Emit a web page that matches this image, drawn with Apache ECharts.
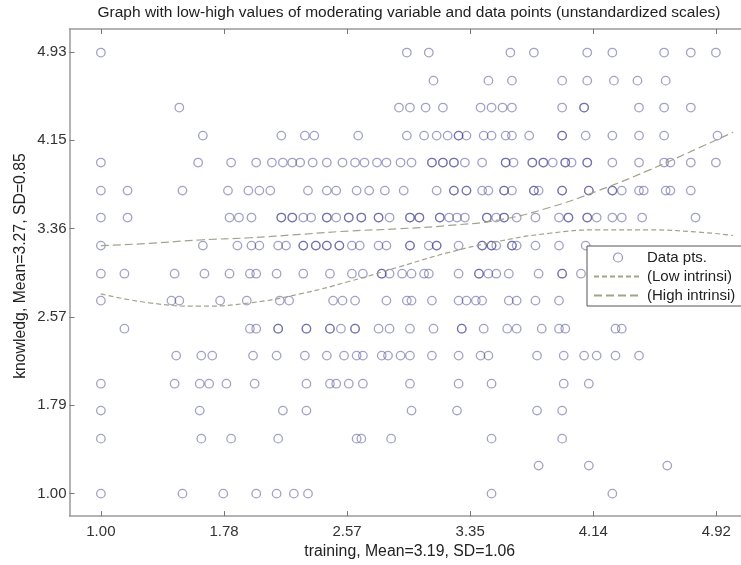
<!DOCTYPE html>
<html><head><meta charset="utf-8">
<script src="https://cdn.jsdelivr.net/npm/echarts@6/dist/echarts.min.js"></script>
<style>html,body{margin:0;padding:0;background:#fff}#c{width:741px;height:565px}</style>
</head><body><div id="c"></div>
<script>
// axis ticks
const xTicks = [1.00, 1.7846, 2.5692, 3.3538, 4.1384, 4.923];
const xTickLabels = ['1.00', '1.78', '2.57', '3.35', '4.14', '4.92'];
const yTicks = [1.00, 1.787, 2.574, 3.361, 4.148, 4.935];
const yTickLabels = ['1.00', '1.79', '2.57', '3.36', '4.15', '4.93'];

// knowledge levels (rows of data points), top to bottom
const yLevels = [4.93, 4.68, 4.44, 4.19, 3.95, 3.70, 3.46, 3.21, 2.96, 2.72, 2.47, 2.23, 1.98, 1.74, 1.49, 1.25, 1.00];

// training values of data points on each knowledge level
const row493 = [1.00, 2.95, 3.09, 3.61, 3.76, 4.10, 4.26, 4.59, 4.76, 4.92];
const row468 = [3.12, 3.47, 3.62, 3.94, 4.10, 4.27, 4.42, 4.60];
const row444 = [1.50, 2.90, 2.97, 3.07, 3.18, 3.42, 3.49, 3.56, 3.62, 3.94, 4.08, 4.08, 4.43, 4.59, 4.76];
const row419 = [1.65, 2.15, 2.30, 2.36, 2.64, 2.95, 3.06, 3.14, 3.21, 3.28, 3.28, 3.33, 3.44, 3.49, 3.58, 3.62, 3.73, 3.94, 3.94, 4.09, 4.26, 4.43, 4.59, 4.93];
const row395 = [1.00, 1.62, 1.83, 1.99, 2.09, 2.16, 2.22, 2.27, 2.35, 2.44, 2.54, 2.62, 2.68, 2.76, 2.82, 2.91, 2.98, 3.11, 3.11, 3.18, 3.18, 3.25, 3.25, 3.32, 3.43, 3.58, 3.58, 3.63, 3.75, 3.75, 3.82, 3.82, 3.88, 3.96, 3.96, 4.00, 4.10, 4.10, 4.26, 4.43, 4.59, 4.63, 4.76, 4.92];
const row370 = [1.00, 1.17, 1.52, 1.81, 1.94, 2.01, 2.08, 2.32, 2.44, 2.50, 2.63, 2.71, 2.81, 2.93, 3.14, 3.25, 3.25, 3.33, 3.33, 3.43, 3.47, 3.57, 3.57, 3.62, 3.76, 3.76, 3.79, 3.94, 3.94, 4.11, 4.11, 4.26, 4.26, 4.32, 4.43, 4.46, 4.60, 4.63, 4.76];
const row346 = [1.00, 1.17, 1.82, 1.88, 1.96, 2.15, 2.15, 2.22, 2.22, 2.29, 2.34, 2.44, 2.44, 2.50, 2.58, 2.58, 2.66, 2.66, 2.77, 2.77, 2.84, 2.97, 2.97, 3.03, 3.03, 3.16, 3.16, 3.22, 3.27, 3.32, 3.46, 3.46, 3.52, 3.57, 3.57, 3.65, 3.77, 3.92, 3.98, 3.98, 4.10, 4.10, 4.16, 4.26, 4.32, 4.45, 4.79];
const row321 = [1.00, 1.65, 1.87, 1.96, 2.01, 2.13, 2.18, 2.29, 2.29, 2.37, 2.37, 2.44, 2.44, 2.52, 2.52, 2.60, 2.65, 2.77, 2.82, 2.97, 2.97, 3.09, 3.14, 3.14, 3.28, 3.43, 3.43, 3.49, 3.49, 3.52, 3.62, 3.62, 3.65, 3.77, 3.92, 4.09];
const row296 = [1.00, 1.15, 1.47, 1.66, 1.82, 1.95, 1.99, 2.12, 2.29, 2.46, 2.60, 2.67, 2.79, 2.79, 2.84, 2.92, 2.98, 3.06, 3.09, 3.28, 3.41, 3.41, 3.47, 3.52, 3.60, 3.79, 3.94, 3.94, 4.06];
const row272 = [1.00, 1.45, 1.50, 1.76, 1.93, 2.14, 2.20, 2.48, 2.54, 2.62, 2.82, 2.95, 2.98, 3.11, 3.28, 3.33, 3.39, 3.43, 3.60, 3.65, 3.77, 3.92];
const row247 = [1.15, 1.95, 1.99, 2.13, 2.13, 2.31, 2.31, 2.46, 2.46, 2.53, 2.62, 2.62, 2.77, 2.84, 2.97, 3.12, 3.30, 3.30, 3.44, 3.59, 3.65, 3.81, 3.92, 3.96, 4.28, 4.32];
const row223 = [1.48, 1.64, 1.71, 1.97, 2.12, 2.30, 2.44, 2.55, 2.63, 2.67, 2.79, 2.83, 2.91, 2.97, 3.11, 3.28, 3.42, 3.47, 3.78, 3.95, 4.08, 4.16, 4.28, 4.43];
const row198 = [1.00, 1.47, 1.63, 1.69, 1.80, 1.98, 2.31, 2.46, 2.50, 2.58, 2.67, 2.97, 3.28, 3.49, 3.95, 4.11];
const row174 = [1.00, 1.63, 2.16, 2.31, 2.98, 3.27, 3.78, 3.94];
const row149 = [1.00, 1.64, 1.83, 2.13, 2.63, 2.66, 2.85, 3.49, 3.94];
const row125 = [3.79, 4.11, 4.61];
const row100 = [1.00, 1.52, 1.78, 1.99, 2.12, 2.23, 2.32, 3.49, 4.26];

// fitted curves
const curveX = [1.00, 1.31, 1.63, 1.95, 2.27, 2.58, 2.90, 3.22, 3.54, 3.86, 4.17, 4.49, 4.81, 5.03];
const lowIntrinsiY = [2.78, 2.70, 2.67, 2.70, 2.78, 2.89, 3.02, 3.15, 3.25, 3.32, 3.35, 3.35, 3.33, 3.30];
const highIntrinsiY = [3.21, 3.23, 3.26, 3.28, 3.31, 3.34, 3.36, 3.39, 3.44, 3.55, 3.70, 3.88, 4.08, 4.22];

const rows = [row493, row468, row444, row419, row395, row370, row346, row321, row296, row272, row247, row223, row198, row174, row149, row125, row100];
const scatterData = [];
rows.forEach((r, i) => r.forEach(x => scatterData.push([x, yLevels[i]])));
const lowData = curveX.map((x, i) => [x, lowIntrinsiY[i]]);
const highData = curveX.map((x, i) => [x, highIntrinsiY[i]]);

const FONT = 'Liberation Sans, Arial, sans-serif';
const pick = (ticks, labels) => v => {
  let best = 0;
  ticks.forEach((t, i) => { if (Math.abs(t - v) < Math.abs(ticks[best] - v)) best = i; });
  return labels[best];
};
const axisLineStyle = { color: '#9a9a9a', width: 1.5 };
const PT = 'rgba(60,60,140,0.6)';
const CURVE = '#a3a38a';

const chart = echarts.init(document.getElementById('c'), null, { renderer: 'canvas' });
chart.setOption({
  animation: false,
  backgroundColor: '#fff',
  textStyle: { fontFamily: FONT },
  grid: { left: 69.5, right: -2, top: 29, bottom: 42.3, containLabel: false },
  xAxis: [{
    type: 'value', min: 0.8, max: 5.08, position: 'bottom',
    axisLine: { show: true, lineStyle: axisLineStyle },
    axisTick: { show: true, inside: true, length: 5, customValues: xTicks, lineStyle: { color: '#777' } },
    axisLabel: { customValues: xTicks, formatter: pick(xTicks, xTickLabels), margin: 8, fontSize: 15, color: '#333', fontFamily: FONT },
    splitLine: { show: false },
    name: 'training, Mean=3.19, SD=1.06', nameLocation: 'middle', nameGap: 26,
    nameTextStyle: { fontSize: 15.8, color: '#222', fontFamily: FONT, padding: [0, 0, 0, 9] }
  }, {
    type: 'value', min: 0.8, max: 5.08, position: 'top',
    axisLine: { show: true, lineStyle: axisLineStyle },
    axisTick: { show: true, inside: true, length: 5, customValues: xTicks, lineStyle: { color: '#777' } },
    axisLabel: { show: false }, splitLine: { show: false }
  }],
  yAxis: [{
    type: 'value', min: 0.8, max: 5.14,
    axisLine: { show: true, lineStyle: axisLineStyle },
    axisTick: { show: true, inside: true, length: 5, customValues: yTicks, lineStyle: { color: '#777' } },
    axisLabel: { customValues: yTicks, formatter: pick(yTicks, yTickLabels), margin: 3, fontSize: 15, color: '#333', fontFamily: FONT },
    splitLine: { show: false }
  }],
  legend: {
    orient: 'vertical', left: 587, top: 246,
    backgroundColor: '#fff', borderColor: '#555', borderWidth: 1,
    padding: [4, 40, 3, 6], itemGap: 4, itemWidth: 48, itemHeight: 9,
    textStyle: { fontSize: 15, color: '#222', fontFamily: FONT },
    data: [
      { name: 'Data pts.', icon: 'circle', itemStyle: { color: 'rgba(0,0,0,0)', borderColor: 'rgba(60,60,140,0.7)', borderWidth: 1.2 } },
      { name: '(Low intrinsi)', itemStyle: { opacity: 0 } },
      { name: '(High intrinsi)', itemStyle: { opacity: 0 } }
    ]
  },
  graphic: [
    { type: 'text', x: 409, y: 13, silent: true,
      style: { text: 'Graph with low-high values of moderating variable and data points (unstandardized scales)', font: '15.5px ' + FONT, fill: '#222', align: 'center', verticalAlign: 'middle' } },
    { type: 'text', x: 21, y: 266, rotation: Math.PI / 2, silent: true,
      style: { text: 'knowledg, Mean=3.27, SD=0.85', font: '15.8px ' + FONT, fill: '#222', align: 'center', verticalAlign: 'middle' } }
  ],
  series: [{
    name: 'Data pts.', type: 'scatter', data: scatterData,
    symbol: 'circle', symbolSize: 8.5,
    itemStyle: { color: 'rgba(0,0,0,0)', borderColor: PT, borderWidth: 1.3 },
    z: 2
  }, {
    name: '(Low intrinsi)', type: 'line', data: lowData, smooth: true, symbol: 'none',
    lineStyle: { color: CURVE, width: 1.2, type: [5, 3] }, itemStyle: { color: CURVE }, z: 3
  }, {
    name: '(High intrinsi)', type: 'line', data: highData, smooth: true, symbol: 'none',
    lineStyle: { color: CURVE, width: 1.2, type: [8, 4] }, itemStyle: { color: CURVE }, z: 3
  }]
});
</script>
</body></html>
